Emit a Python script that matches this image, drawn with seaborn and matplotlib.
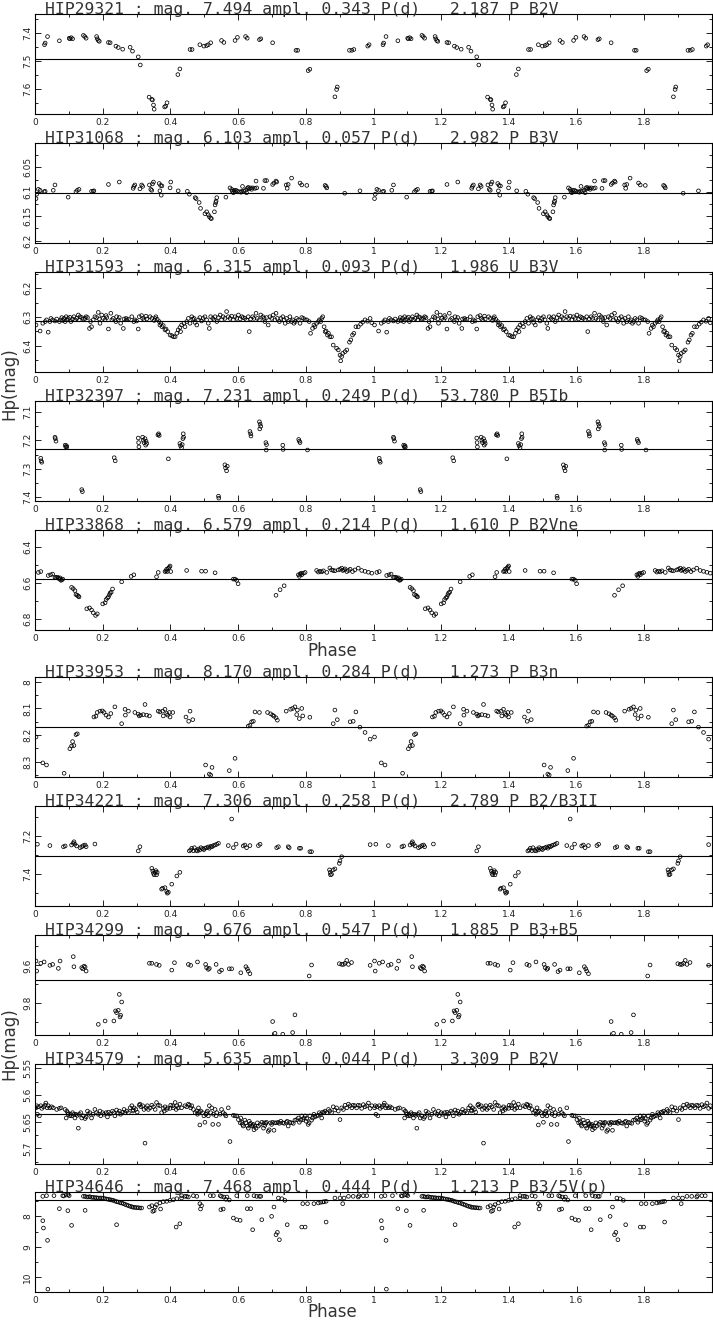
import numpy as np
import pandas as pd
import matplotlib
matplotlib.use("Agg")
import matplotlib.pyplot as plt
import seaborn as sns
from matplotlib.ticker import MultipleLocator, FixedLocator, FuncFormatter

sns.set_theme(style="white")
plt.rcParams["font.family"] = ["DejaVu Sans"]

# ---------------- data: (phase, Hp mag) ----------------
hip29321 = np.array([
    [0.028, 7.442], [0.030, 7.436], [0.037, 7.413], [0.072, 7.428], [0.101, 7.419], [0.103, 7.421],
    [0.107, 7.417], [0.111, 7.421], [0.143, 7.409], [0.147, 7.413], [0.151, 7.419], [0.182, 7.413],
    [0.184, 7.421], [0.187, 7.427], [0.190, 7.430], [0.217, 7.434], [0.222, 7.435], [0.239, 7.447],
    [0.246, 7.452], [0.259, 7.458], [0.281, 7.451], [0.288, 7.465], [0.305, 7.485], [0.311, 7.514],
    [0.337, 7.628], [0.345, 7.636], [0.347, 7.638], [0.350, 7.656], [0.352, 7.671], [0.383, 7.663],
    [0.386, 7.660], [0.390, 7.648], [0.422, 7.548], [0.428, 7.528], [0.458, 7.459], [0.464, 7.459],
    [0.487, 7.442], [0.499, 7.447], [0.507, 7.445], [0.512, 7.442], [0.519, 7.435], [0.551, 7.427],
    [0.558, 7.434], [0.591, 7.427], [0.598, 7.416], [0.622, 7.413], [0.627, 7.419], [0.663, 7.424],
    [0.667, 7.421], [0.702, 7.435], [0.771, 7.462], [0.776, 7.462], [0.807, 7.534], [0.812, 7.529],
    [0.886, 7.627], [0.891, 7.601], [0.893, 7.592], [0.929, 7.462], [0.936, 7.462], [0.942, 7.459],
    [0.983, 7.447], [0.987, 7.442]])

hip31068 = np.array([
    [0.003, 6.114], [0.005, 6.105], [0.010, 6.095], [0.015, 6.097], [0.027, 6.100], [0.030, 6.099],
    [0.054, 6.097], [0.059, 6.086], [0.098, 6.111], [0.121, 6.100], [0.125, 6.097], [0.130, 6.095],
    [0.167, 6.099], [0.172, 6.099], [0.174, 6.098], [0.217, 6.085], [0.249, 6.080], [0.290, 6.093],
    [0.292, 6.089], [0.295, 6.086], [0.310, 6.094], [0.315, 6.086], [0.318, 6.089], [0.338, 6.086],
    [0.342, 6.095], [0.345, 6.097], [0.347, 6.084], [0.350, 6.080], [0.367, 6.083], [0.369, 6.098],
    [0.371, 6.087], [0.373, 6.107], [0.375, 6.088], [0.399, 6.092], [0.401, 6.080], [0.423, 6.098],
    [0.450, 6.099], [0.456, 6.105], [0.473, 6.112], [0.476, 6.114], [0.485, 6.122], [0.489, 6.134],
    [0.502, 6.145], [0.507, 6.141], [0.512, 6.147], [0.515, 6.151], [0.519, 6.154], [0.521, 6.155],
    [0.530, 6.141], [0.532, 6.127], [0.534, 6.122], [0.535, 6.119], [0.537, 6.112], [0.564, 6.111],
    [0.576, 6.092], [0.581, 6.095], [0.583, 6.099], [0.586, 6.102], [0.588, 6.097], [0.591, 6.100],
    [0.594, 6.097], [0.598, 6.099], [0.604, 6.100], [0.608, 6.101], [0.611, 6.099], [0.613, 6.089],
    [0.617, 6.099], [0.622, 6.097], [0.625, 6.102], [0.627, 6.093], [0.630, 6.091], [0.633, 6.094],
    [0.637, 6.092], [0.640, 6.095], [0.643, 6.092], [0.650, 6.093], [0.653, 6.078], [0.655, 6.092],
    [0.675, 6.093], [0.679, 6.077], [0.684, 6.077], [0.702, 6.085], [0.706, 6.082], [0.712, 6.078],
    [0.714, 6.080], [0.742, 6.086], [0.745, 6.093], [0.748, 6.085], [0.758, 6.072], [0.783, 6.082],
    [0.788, 6.086], [0.803, 6.087], [0.857, 6.087], [0.860, 6.089], [0.862, 6.092], [0.915, 6.103],
    [0.960, 6.098]])

hip31593 = np.array([
    [0.003, 6.328], [0.015, 6.349], [0.023, 6.322], [0.030, 6.316], [0.034, 6.310], [0.039, 6.353],
    [0.044, 6.316], [0.047, 6.305], [0.052, 6.310], [0.059, 6.314], [0.064, 6.307], [0.072, 6.316],
    [0.076, 6.310], [0.079, 6.302], [0.082, 6.312], [0.086, 6.305], [0.089, 6.316], [0.092, 6.299],
    [0.094, 6.310], [0.098, 6.305], [0.103, 6.301], [0.106, 6.316], [0.111, 6.307], [0.115, 6.299],
    [0.118, 6.310], [0.123, 6.305], [0.128, 6.293], [0.131, 6.310], [0.133, 6.299], [0.138, 6.302],
    [0.143, 6.307], [0.148, 6.305], [0.151, 6.299], [0.155, 6.302], [0.161, 6.340], [0.164, 6.316],
    [0.167, 6.334], [0.172, 6.310], [0.177, 6.299], [0.182, 6.302], [0.187, 6.284], [0.190, 6.307],
    [0.192, 6.322], [0.197, 6.293], [0.202, 6.305], [0.207, 6.310], [0.210, 6.295], [0.212, 6.302],
    [0.217, 6.342], [0.224, 6.287], [0.227, 6.310], [0.231, 6.305], [0.239, 6.316], [0.241, 6.299],
    [0.246, 6.310], [0.249, 6.302], [0.253, 6.322], [0.261, 6.340], [0.263, 6.307], [0.269, 6.305],
    [0.271, 6.310], [0.276, 6.308], [0.286, 6.299], [0.292, 6.316], [0.295, 6.310], [0.300, 6.314],
    [0.305, 6.342], [0.308, 6.299], [0.315, 6.295], [0.318, 6.305], [0.322, 6.310], [0.328, 6.297],
    [0.330, 6.307], [0.340, 6.299], [0.345, 6.305], [0.352, 6.312], [0.355, 6.305], [0.357, 6.299],
    [0.361, 6.308], [0.367, 6.316], [0.369, 6.328], [0.372, 6.322], [0.375, 6.334], [0.379, 6.330],
    [0.384, 6.345], [0.387, 6.342], [0.392, 6.351], [0.399, 6.363], [0.404, 6.365], [0.409, 6.369],
    [0.414, 6.369], [0.419, 6.357], [0.423, 6.345], [0.428, 6.337], [0.430, 6.351], [0.433, 6.328],
    [0.440, 6.322], [0.443, 6.334], [0.448, 6.316], [0.453, 6.305], [0.458, 6.322], [0.463, 6.299],
    [0.466, 6.307], [0.470, 6.305], [0.473, 6.319], [0.478, 6.328], [0.483, 6.310], [0.487, 6.302],
    [0.492, 6.314], [0.497, 6.305], [0.502, 6.299], [0.507, 6.310], [0.512, 6.322], [0.515, 6.340],
    [0.519, 6.299], [0.525, 6.305], [0.529, 6.310], [0.532, 6.299], [0.537, 6.316], [0.542, 6.302],
    [0.547, 6.293], [0.551, 6.310], [0.556, 6.299], [0.561, 6.305], [0.566, 6.281], [0.571, 6.299],
    [0.576, 6.305], [0.581, 6.297], [0.586, 6.310], [0.591, 6.299], [0.596, 6.305], [0.601, 6.293],
    [0.606, 6.307], [0.611, 6.299], [0.615, 6.302], [0.620, 6.305], [0.625, 6.310], [0.630, 6.299],
    [0.633, 6.351], [0.637, 6.307], [0.643, 6.299], [0.647, 6.305], [0.653, 6.287], [0.657, 6.305],
    [0.663, 6.310], [0.667, 6.293], [0.673, 6.299], [0.677, 6.305], [0.679, 6.316], [0.684, 6.302],
    [0.689, 6.328], [0.694, 6.299], [0.699, 6.305], [0.704, 6.293], [0.709, 6.310], [0.712, 6.287],
    [0.716, 6.305], [0.722, 6.316], [0.726, 6.305], [0.732, 6.299], [0.736, 6.310], [0.739, 6.322],
    [0.743, 6.305], [0.748, 6.316], [0.753, 6.299], [0.758, 6.316], [0.761, 6.310], [0.765, 6.322],
    [0.769, 6.316], [0.773, 6.305], [0.778, 6.310], [0.783, 6.322], [0.788, 6.302], [0.793, 6.305],
    [0.798, 6.310], [0.803, 6.310], [0.810, 6.316], [0.814, 6.357], [0.820, 6.340], [0.824, 6.328],
    [0.827, 6.334], [0.832, 6.322], [0.837, 6.316], [0.840, 6.310], [0.844, 6.316], [0.847, 6.305],
    [0.850, 6.299], [0.854, 6.334], [0.857, 6.351], [0.860, 6.349], [0.864, 6.363], [0.867, 6.357],
    [0.871, 6.369], [0.876, 6.369], [0.881, 6.398], [0.891, 6.409], [0.896, 6.415], [0.901, 6.433],
    [0.903, 6.453], [0.906, 6.438], [0.909, 6.427], [0.916, 6.421], [0.921, 6.415], [0.929, 6.388],
    [0.933, 6.380], [0.938, 6.363], [0.942, 6.357], [0.948, 6.334], [0.955, 6.334], [0.962, 6.325],
    [0.968, 6.318], [0.975, 6.310], [0.982, 6.315], [0.990, 6.305], [0.995, 6.320]])

hip32397 = np.array([
    [0.017, 7.263], [0.018, 7.272], [0.020, 7.277], [0.059, 7.189], [0.060, 7.194], [0.062, 7.203],
    [0.089, 7.217], [0.091, 7.223], [0.093, 7.219], [0.094, 7.224], [0.138, 7.373], [0.140, 7.380],
    [0.305, 7.192], [0.306, 7.208], [0.307, 7.223], [0.234, 7.261], [0.237, 7.272],
    [0.318, 7.189], [0.320, 7.200], [0.322, 7.208], [0.325, 7.194], [0.328, 7.203], [0.330, 7.211],
    [0.327, 7.217], [0.363, 7.181], [0.365, 7.177], [0.367, 7.183], [0.394, 7.265], [0.428, 7.211],
    [0.430, 7.219], [0.433, 7.226], [0.435, 7.215], [0.438, 7.177], [0.439, 7.189], [0.437, 7.194],
    [0.542, 7.396], [0.543, 7.403], [0.561, 7.286], [0.563, 7.297], [0.566, 7.307], [0.568, 7.291],
    [0.635, 7.169], [0.637, 7.177], [0.638, 7.185], [0.663, 7.135], [0.665, 7.143], [0.667, 7.151],
    [0.664, 7.160], [0.682, 7.208], [0.684, 7.215], [0.683, 7.234], [0.732, 7.217], [0.733, 7.232],
    [0.779, 7.197], [0.781, 7.203], [0.783, 7.208], [0.805, 7.234]])

hip33868 = np.array([
    [0.010, 6.541], [0.017, 6.536], [0.039, 6.558], [0.046, 6.554], [0.052, 6.550], [0.059, 6.569],
    [0.062, 6.569], [0.066, 6.567], [0.069, 6.572], [0.072, 6.578], [0.074, 6.571], [0.077, 6.585],
    [0.079, 6.582], [0.082, 6.578], [0.108, 6.624], [0.113, 6.631], [0.118, 6.642], [0.121, 6.664],
    [0.125, 6.668], [0.128, 6.673], [0.130, 6.677], [0.153, 6.743], [0.161, 6.738], [0.167, 6.750],
    [0.172, 6.765], [0.179, 6.780], [0.184, 6.771], [0.200, 6.716], [0.207, 6.710], [0.210, 6.692],
    [0.214, 6.683], [0.217, 6.677], [0.220, 6.664], [0.222, 6.655], [0.225, 6.651], [0.229, 6.633],
    [0.256, 6.593], [0.284, 6.563], [0.292, 6.554], [0.359, 6.565], [0.364, 6.541], [0.384, 6.536],
    [0.387, 6.532], [0.389, 6.523], [0.391, 6.536], [0.394, 6.517], [0.397, 6.512], [0.399, 6.505],
    [0.401, 6.536], [0.448, 6.530], [0.492, 6.534], [0.504, 6.534], [0.532, 6.543], [0.586, 6.578],
    [0.591, 6.578], [0.596, 6.585], [0.600, 6.604], [0.712, 6.668], [0.724, 6.637], [0.736, 6.615],
    [0.778, 6.554], [0.781, 6.563], [0.783, 6.550], [0.786, 6.545], [0.788, 6.554], [0.793, 6.545],
    [0.798, 6.541], [0.832, 6.530], [0.837, 6.539], [0.842, 6.534], [0.847, 6.538], [0.852, 6.532],
    [0.862, 6.541], [0.871, 6.516], [0.876, 6.527], [0.881, 6.530], [0.886, 6.532], [0.896, 6.527],
    [0.901, 6.523], [0.906, 6.517], [0.909, 6.530], [0.913, 6.527], [0.916, 6.521], [0.921, 6.536],
    [0.926, 6.530], [0.931, 6.523], [0.938, 6.536], [0.945, 6.527], [0.955, 6.517], [0.965, 6.530],
    [0.975, 6.535], [0.985, 6.540], [0.995, 6.545]])

hip33953 = np.array([
    [0.003, 8.207], [0.023, 8.304], [0.034, 8.312], [0.086, 8.343], [0.103, 8.251], [0.108, 8.241],
    [0.111, 8.224], [0.115, 8.239], [0.121, 8.198], [0.125, 8.195], [0.174, 8.132], [0.180, 8.129],
    [0.184, 8.115], [0.192, 8.110], [0.199, 8.109], [0.204, 8.115], [0.210, 8.125], [0.217, 8.132],
    [0.224, 8.119], [0.236, 8.094], [0.256, 8.157], [0.266, 8.103], [0.267, 8.125], [0.276, 8.110],
    [0.295, 8.115], [0.305, 8.121], [0.308, 8.128], [0.312, 8.125], [0.320, 8.123], [0.325, 8.085],
    [0.330, 8.125], [0.338, 8.128], [0.364, 8.110], [0.369, 8.113], [0.377, 8.110], [0.379, 8.128],
    [0.384, 8.103], [0.389, 8.119], [0.392, 8.125], [0.397, 8.115], [0.399, 8.132], [0.407, 8.115],
    [0.446, 8.132], [0.454, 8.148], [0.458, 8.110], [0.466, 8.142], [0.504, 8.312], [0.515, 8.346],
    [0.519, 8.350], [0.523, 8.321], [0.574, 8.333], [0.591, 8.287], [0.630, 8.166], [0.635, 8.163],
    [0.640, 8.150], [0.645, 8.148], [0.650, 8.113], [0.663, 8.115], [0.687, 8.115], [0.696, 8.120],
    [0.702, 8.125], [0.706, 8.129], [0.712, 8.135], [0.716, 8.144], [0.742, 8.110], [0.755, 8.103],
    [0.761, 8.100], [0.768, 8.094], [0.773, 8.123], [0.775, 8.106], [0.781, 8.138], [0.788, 8.100],
    [0.791, 8.128], [0.812, 8.133], [0.881, 8.157], [0.886, 8.106], [0.893, 8.142], [0.931, 8.150],
    [0.940, 8.148], [0.948, 8.113], [0.960, 8.170], [0.975, 8.190], [0.990, 8.215]])

hip34221 = np.array([
    [0.007, 7.243], [0.044, 7.250], [0.084, 7.256], [0.089, 7.252], [0.108, 7.247], [0.113, 7.238],
    [0.115, 7.230], [0.118, 7.243], [0.123, 7.252], [0.133, 7.261], [0.138, 7.256], [0.143, 7.250],
    [0.148, 7.247], [0.151, 7.256], [0.177, 7.242], [0.305, 7.278], [0.310, 7.256], [0.345, 7.369],
    [0.348, 7.383], [0.350, 7.395], [0.352, 7.403], [0.355, 7.390], [0.357, 7.381], [0.359, 7.403],
    [0.361, 7.390], [0.374, 7.478], [0.377, 7.473], [0.384, 7.470], [0.389, 7.490], [0.391, 7.499],
    [0.394, 7.494], [0.404, 7.452], [0.419, 7.409], [0.428, 7.390], [0.456, 7.278], [0.460, 7.273],
    [0.463, 7.264], [0.468, 7.277], [0.471, 7.261], [0.476, 7.275], [0.480, 7.278], [0.483, 7.268],
    [0.487, 7.273], [0.490, 7.261], [0.495, 7.266], [0.499, 7.271], [0.502, 7.264], [0.507, 7.261],
    [0.512, 7.257], [0.515, 7.264], [0.519, 7.254], [0.523, 7.256], [0.527, 7.250], [0.532, 7.247],
    [0.537, 7.243], [0.542, 7.238], [0.571, 7.250], [0.581, 7.111], [0.586, 7.261], [0.594, 7.242],
    [0.615, 7.252], [0.620, 7.247], [0.625, 7.261], [0.635, 7.250], [0.660, 7.250], [0.665, 7.243],
    [0.714, 7.261], [0.719, 7.256], [0.748, 7.256], [0.751, 7.261], [0.781, 7.264], [0.785, 7.264],
    [0.812, 7.282], [0.817, 7.282], [0.870, 7.377], [0.872, 7.390], [0.873, 7.403], [0.876, 7.400],
    [0.881, 7.377], [0.886, 7.372], [0.899, 7.343], [0.901, 7.330], [0.906, 7.308], [0.990, 7.245]])

hip34299 = np.array([
    [0.003, 9.577], [0.005, 9.630], [0.017, 9.589], [0.027, 9.582], [0.044, 9.600], [0.052, 9.595],
    [0.069, 9.616], [0.074, 9.577], [0.113, 9.554], [0.115, 9.607], [0.138, 9.612], [0.141, 9.618],
    [0.145, 9.604], [0.148, 9.609], [0.151, 9.630], [0.187, 9.911], [0.207, 9.893], [0.233, 9.893],
    [0.238, 9.840], [0.241, 9.849], [0.246, 9.837], [0.251, 9.872], [0.253, 9.863], [0.256, 9.793],
    [0.249, 9.753], [0.338, 9.589], [0.345, 9.589], [0.359, 9.595], [0.367, 9.600], [0.404, 9.625],
    [0.412, 9.586], [0.453, 9.595], [0.460, 9.600], [0.480, 9.582], [0.504, 9.595], [0.507, 9.612],
    [0.512, 9.621], [0.515, 9.616], [0.535, 9.595], [0.545, 9.633], [0.551, 9.625], [0.574, 9.618],
    [0.581, 9.618], [0.608, 9.639], [0.623, 9.607], [0.627, 9.618], [0.630, 9.630], [0.635, 9.644],
    [0.702, 9.896], [0.709, 9.958], [0.732, 9.963], [0.761, 9.954], [0.768, 9.861], [0.810, 9.656],
    [0.817, 9.598], [0.899, 9.591], [0.906, 9.595], [0.911, 9.595], [0.916, 9.589], [0.921, 9.574],
    [0.926, 9.595], [0.935, 9.585], [0.990, 9.600]])

hip34579 = np.array([
    [0.003, 5.624], [0.005, 5.620], [0.007, 5.636], [0.010, 5.622], [0.013, 5.639], [0.017, 5.620],
    [0.020, 5.625], [0.025, 5.622], [0.030, 5.619], [0.032, 5.615], [0.036, 5.624], [0.039, 5.620],
    [0.044, 5.624], [0.049, 5.622], [0.054, 5.624], [0.064, 5.627], [0.072, 5.625], [0.077, 5.624],
    [0.089, 5.627], [0.092, 5.643], [0.094, 5.630], [0.097, 5.633], [0.098, 5.636], [0.103, 5.639],
    [0.105, 5.636], [0.108, 5.639], [0.111, 5.633], [0.115, 5.636], [0.118, 5.643], [0.121, 5.636],
    [0.125, 5.638], [0.128, 5.662], [0.131, 5.636], [0.135, 5.633], [0.138, 5.643], [0.143, 5.639],
    [0.148, 5.644], [0.151, 5.641], [0.155, 5.630], [0.158, 5.636], [0.162, 5.633], [0.167, 5.643],
    [0.172, 5.636], [0.177, 5.627], [0.182, 5.633], [0.187, 5.636], [0.192, 5.630], [0.194, 5.639],
    [0.200, 5.633], [0.204, 5.636], [0.210, 5.633], [0.214, 5.641], [0.217, 5.632], [0.222, 5.635],
    [0.229, 5.630], [0.233, 5.633], [0.236, 5.639], [0.241, 5.628], [0.246, 5.634], [0.249, 5.630],
    [0.253, 5.636], [0.259, 5.632], [0.263, 5.627], [0.266, 5.633], [0.271, 5.630], [0.276, 5.633],
    [0.281, 5.624], [0.286, 5.620], [0.289, 5.630], [0.290, 5.628], [0.293, 5.624], [0.298, 5.627],
    [0.302, 5.632], [0.308, 5.619], [0.310, 5.617], [0.313, 5.622], [0.318, 5.620], [0.322, 5.627],
    [0.325, 5.690], [0.328, 5.624], [0.332, 5.620], [0.335, 5.627], [0.340, 5.624], [0.345, 5.619],
    [0.350, 5.622], [0.355, 5.627], [0.359, 5.614], [0.364, 5.619], [0.369, 5.620], [0.374, 5.633],
    [0.379, 5.625], [0.382, 5.630], [0.384, 5.622], [0.389, 5.627], [0.392, 5.624], [0.399, 5.625],
    [0.401, 5.619], [0.407, 5.620], [0.409, 5.624], [0.414, 5.614], [0.417, 5.627], [0.419, 5.620],
    [0.423, 5.624], [0.428, 5.617], [0.433, 5.624], [0.443, 5.620], [0.448, 5.622], [0.453, 5.617],
    [0.456, 5.619], [0.460, 5.624], [0.463, 5.620], [0.468, 5.627], [0.473, 5.633], [0.478, 5.630],
    [0.480, 5.636], [0.483, 5.624], [0.485, 5.632], [0.487, 5.656], [0.490, 5.630], [0.495, 5.633],
    [0.499, 5.639], [0.502, 5.651], [0.505, 5.636], [0.507, 5.633], [0.509, 5.630], [0.512, 5.639],
    [0.515, 5.620], [0.519, 5.633], [0.522, 5.624], [0.525, 5.655], [0.527, 5.636], [0.532, 5.627],
    [0.535, 5.639], [0.537, 5.633], [0.542, 5.655], [0.547, 5.636], [0.551, 5.627], [0.556, 5.633],
    [0.561, 5.636], [0.564, 5.639], [0.571, 5.624], [0.576, 5.687], [0.586, 5.638], [0.591, 5.639],
    [0.596, 5.639], [0.601, 5.646], [0.606, 5.652], [0.608, 5.643], [0.611, 5.651], [0.613, 5.655],
    [0.615, 5.658], [0.620, 5.647], [0.623, 5.652], [0.627, 5.658], [0.630, 5.662], [0.633, 5.649],
    [0.635, 5.655], [0.637, 5.653], [0.640, 5.658], [0.643, 5.657], [0.645, 5.655], [0.647, 5.665],
    [0.650, 5.658], [0.653, 5.662], [0.657, 5.652], [0.660, 5.658], [0.665, 5.655], [0.670, 5.651],
    [0.675, 5.662], [0.677, 5.652], [0.679, 5.657], [0.682, 5.653], [0.684, 5.651], [0.689, 5.668],
    [0.692, 5.665], [0.696, 5.652], [0.699, 5.655], [0.702, 5.651], [0.706, 5.666], [0.709, 5.652],
    [0.714, 5.652], [0.719, 5.651], [0.722, 5.653], [0.726, 5.649], [0.732, 5.652], [0.736, 5.653],
    [0.742, 5.651], [0.745, 5.649], [0.748, 5.658], [0.753, 5.651], [0.758, 5.652], [0.763, 5.653],
    [0.768, 5.647], [0.773, 5.646], [0.778, 5.643], [0.781, 5.651], [0.785, 5.647], [0.788, 5.639],
    [0.791, 5.646], [0.795, 5.643], [0.798, 5.639], [0.801, 5.649], [0.803, 5.644], [0.807, 5.655],
    [0.810, 5.652], [0.812, 5.639], [0.817, 5.647], [0.820, 5.643], [0.824, 5.636], [0.827, 5.641],
    [0.832, 5.639], [0.837, 5.638], [0.840, 5.633], [0.844, 5.636], [0.847, 5.643], [0.850, 5.632],
    [0.854, 5.633], [0.857, 5.630], [0.862, 5.633], [0.867, 5.627], [0.871, 5.630], [0.876, 5.633],
    [0.881, 5.622], [0.886, 5.628], [0.891, 5.624], [0.896, 5.630], [0.901, 5.646], [0.906, 5.624],
    [0.911, 5.627], [0.916, 5.619], [0.921, 5.624], [0.926, 5.617], [0.931, 5.620], [0.936, 5.624],
    [0.940, 5.619], [0.945, 5.620], [0.950, 5.624], [0.955, 5.619], [0.960, 5.620], [0.965, 5.625],
    [0.970, 5.618], [0.975, 5.622], [0.980, 5.620], [0.985, 5.615], [0.990, 5.625], [0.995, 5.620]])

hip34646 = np.array([
    [0.023, 7.341], [0.034, 7.319], [0.056, 7.319], [0.082, 7.319], [0.085, 7.330], [0.092, 7.297],
    [0.098, 7.286], [0.101, 7.319], [0.072, 7.747], [0.097, 7.813], [0.108, 8.297], [0.023, 8.143],
    [0.025, 8.385], [0.037, 8.791], [0.038, 10.396], [0.143, 7.341], [0.148, 7.341], [0.153, 7.363],
    [0.158, 7.363], [0.162, 7.352], [0.167, 7.374], [0.172, 7.374], [0.177, 7.385], [0.182, 7.385],
    [0.187, 7.396], [0.192, 7.396], [0.197, 7.396], [0.202, 7.407], [0.207, 7.418], [0.212, 7.429],
    [0.217, 7.440], [0.222, 7.451], [0.226, 7.462], [0.231, 7.473], [0.236, 7.495], [0.241, 7.516],
    [0.246, 7.527], [0.251, 7.549], [0.256, 7.560], [0.261, 7.582], [0.266, 7.604], [0.271, 7.626],
    [0.276, 7.648], [0.281, 7.670], [0.286, 7.681], [0.290, 7.703], [0.295, 7.703], [0.300, 7.714],
    [0.305, 7.714], [0.310, 7.725], [0.315, 7.725], [0.148, 7.802], [0.241, 8.275], [0.338, 7.692],
    [0.345, 7.648], [0.348, 7.835], [0.352, 7.813], [0.355, 7.692], [0.359, 7.615], [0.369, 7.560],
    [0.379, 7.516], [0.389, 7.505], [0.399, 7.473], [0.409, 7.451], [0.419, 7.418], [0.433, 7.396],
    [0.443, 7.341], [0.371, 7.758], [0.417, 8.352], [0.428, 8.242], [0.433, 7.319], [0.448, 7.341],
    [0.453, 7.363], [0.468, 7.319], [0.478, 7.341], [0.487, 7.582], [0.489, 7.758], [0.492, 7.648],
    [0.518, 7.319], [0.527, 7.319], [0.547, 7.319], [0.551, 7.341], [0.558, 7.363], [0.567, 7.363],
    [0.564, 7.440], [0.574, 7.462], [0.549, 7.780], [0.556, 7.758], [0.586, 8.055], [0.596, 8.110],
    [0.606, 8.132], [0.596, 7.319], [0.627, 7.319], [0.647, 7.319], [0.655, 7.341], [0.663, 7.341],
    [0.667, 7.341], [0.627, 7.747], [0.637, 7.747], [0.643, 8.440], [0.670, 8.110], [0.699, 8.000],
    [0.706, 7.692], [0.712, 8.604], [0.716, 8.527], [0.722, 8.769], [0.719, 7.396], [0.729, 7.418],
    [0.738, 7.473], [0.745, 8.275], [0.788, 8.352], [0.798, 8.352], [0.791, 7.582], [0.805, 7.582],
    [0.824, 7.582], [0.837, 7.560], [0.844, 7.538], [0.850, 7.527], [0.854, 7.516], [0.860, 7.505],
    [0.860, 8.187], [0.886, 7.396], [0.909, 7.582], [0.901, 7.396], [0.913, 7.396], [0.926, 7.341],
    [0.940, 7.341], [0.955, 7.363], [0.957, 7.319], [0.970, 7.319], [0.980, 7.319]])

hip_ids = ["HIP29321", "HIP31068", "HIP31593", "HIP32397", "HIP33868",
           "HIP33953", "HIP34221", "HIP34299", "HIP34579", "HIP34646"]
mean_mag = [7.494, 6.103, 6.315, 7.231, 6.579, 8.170, 7.306, 9.676, 5.635, 7.468]
amplitude = [0.343, 0.057, 0.093, 0.249, 0.214, 0.284, 0.258, 0.547, 0.044, 0.444]
period = [2.187, 2.982, 1.986, 53.780, 1.610, 1.273, 2.789, 1.885, 3.309, 1.213]
var_flag = ["P", "P", "U", "P", "P", "P", "P", "P", "P", "P"]
sp_type = ["B2V", "B3V", "B3V", "B5Ib", "B2Vne", "B3n", "B2/B3II", "B3+B5", "B2V", "B3/5V(p)"]
curves = [hip29321, hip31068, hip31593, hip32397, hip33868,
          hip33953, hip34221, hip34299, hip34579, hip34646]

y_limits = [(7.688, 7.333), (6.205, 6.0), (6.492, 6.143), (7.413, 7.062), (6.861, 6.305),
            (8.357, 7.982), (7.566, 7.043), (9.967, 9.44), (5.729, 5.542), (10.49, 7.198)]
y_ticks = [[7.4, 7.5, 7.6], [6.05, 6.1, 6.15, 6.2], [6.2, 6.3, 6.4], [7.1, 7.2, 7.3, 7.4],
           [6.4, 6.6, 6.8], [8.0, 8.1, 8.2, 8.3], [7.2, 7.4], [9.6, 9.8],
           [5.55, 5.6, 5.65, 5.7], [8, 9, 10]]
x_ticks = [0, 0.2, 0.4, 0.6, 0.8, 1.0, 1.2, 1.4, 1.6, 1.8]

# ---------------- layout (pixels) ----------------
W, H = 713, 1321
fig = plt.figure(figsize=(W / 100, H / 100), dpi=100)
fig.patch.set_facecolor("white")
tops = [14, 143, 272, 401, 530, 677, 806, 935, 1064, 1192]
left_px, width_px, height_px = 35, 677, 100
fmt = FuncFormatter(lambda v, p: f"{v:g}")

for i, data in enumerate(curves):
    top = tops[i]
    ax = fig.add_axes([left_px / W, 1 - (top + height_px) / H, width_px / W, height_px / H])
    ax.set_facecolor("white")
    df = pd.DataFrame({"phase": np.concatenate([data[:, 0], data[:, 0] + 1.0]),
                       "mag": np.concatenate([data[:, 1], data[:, 1]])})
    sns.scatterplot(data=df, x="phase", y="mag", ax=ax, marker="o", s=7,
                    color="black", facecolor="none", edgecolor="black",
                    linewidth=0.55, legend=False, zorder=3)
    ax.axhline(mean_mag[i], color="black", lw=0.8, zorder=2)
    ax.set_xlim(0, 2.0)
    ax.set_ylim(*y_limits[i])
    ax.xaxis.set_major_locator(FixedLocator(x_ticks))
    ax.xaxis.set_minor_locator(MultipleLocator(0.1))
    ax.yaxis.set_major_locator(FixedLocator(y_ticks[i]))
    step = y_ticks[i][1] - y_ticks[i][0]
    ax.yaxis.set_minor_locator(MultipleLocator(step / 2))
    ax.xaxis.set_major_formatter(fmt)
    ax.yaxis.set_major_formatter(fmt)
    ax.tick_params(which="both", direction="in", top=True, right=True, bottom=True, left=True,
                   width=0.6, color="black", labelsize=6.5, labelcolor="#222222")
    ax.tick_params(which="major", length=4)
    ax.tick_params(which="minor", length=2.5)
    ax.tick_params(axis="x", pad=3)
    ax.tick_params(axis="y", pad=2, labelrotation=90)
    plt.setp(ax.get_yticklabels(), va="center")
    for sp in ax.spines.values():
        sp.set_visible(True)
        sp.set_color("black")
        sp.set_linewidth(0.8)
    ax.set_xlabel("")
    ax.set_ylabel("")
    title = (f"{hip_ids[i]} : mag. {mean_mag[i]:.3f} ampl. {amplitude[i]:.3f} "
             f"P(d) {period[i]:7.3f} {var_flag[i]} {sp_type[i]}")
    ax.text(0.0148, 1.0, title, transform=ax.transAxes, ha="left", va="baseline",
            fontsize=11.8, color="#333333", family=["DejaVu Sans Mono"])

fig.text(332 / W, 1 - 651 / H, "Phase", ha="center", va="center", fontsize=12, color="#333333")
fig.text(332 / W, 1 - 1312 / H, "Phase", ha="center", va="center", fontsize=12, color="#333333")
fig.text(9 / W, 1 - 384 / H, "Hp(mag)", rotation=90, ha="center", va="center", fontsize=12, color="#333333")
fig.text(9 / W, 1 - 1044 / H, "Hp(mag)", rotation=90, ha="center", va="center", fontsize=12, color="#333333")

fig.savefig("out.png", dpi=100, facecolor="white")
